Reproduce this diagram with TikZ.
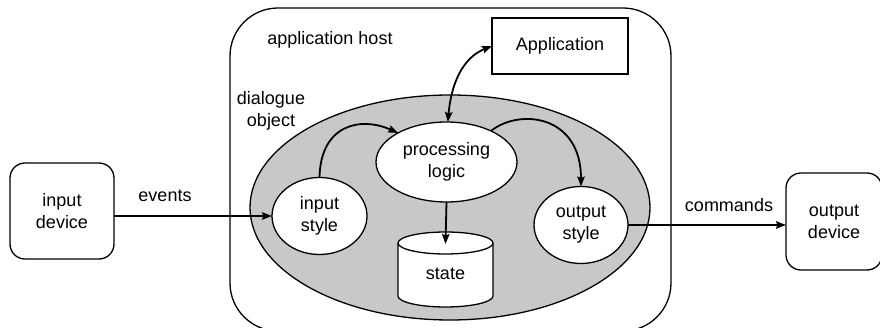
\documentclass[tikz,border=0pt]{standalone}
\usepackage{fontspec}
\setmainfont{Liberation Sans}
\usetikzlibrary{shapes.geometric,arrows.meta}
\definecolor{dlggray}{HTML}{C8C8C8}
\tikzset{
  txt/.style={font=\fontsize{18}{22}\selectfont, align=center, inner sep=0pt},
  frame/.style={draw, line width=1.3pt, outer sep=0pt, inner sep=0pt},
  devbox/.style={frame, rounded corners=15pt, minimum width=104pt, minimum height=96pt, txt},
  bubble/.style={frame, ellipse, fill=white, txt},
  arr/.style={line width=1.8pt, -{Stealth[length=10pt,width=7.5pt,inset=1.5pt]}},
  biarr/.style={line width=1.8pt, {Stealth[length=10pt,width=7.5pt,inset=1.5pt]}-{Stealth[length=10pt,width=7.5pt,inset=1.5pt]}}
}
\begin{document}
\begin{tikzpicture}[x=1pt,y=-1pt]
\useasboundingbox (0,0) rectangle (880,328);

% host frame (runs past the lower edge)
\node[frame, rounded corners=48pt, minimum width=441pt, minimum height=323pt] (host) at (450.5,169.5) {};
\node[txt, anchor=base] (hostlbl) at (330,45) {application host};

% application
\node[frame, minimum width=136pt, minimum height=56pt, txt] (app) at (560,46) {Application};

% dialogue object
\node[frame, ellipse, fill=dlggray, minimum width=400pt, minimum height=225pt] (dlg) at (450,207.5) {};
\node[txt] (dlglbl) at (271,111) {dialogue\\object};

% inner parts
\node[bubble, minimum width=141pt, minimum height=80pt] (proc) at (446.5,162) {processing\\logic};
\node[bubble, minimum width=95pt, minimum height=77pt] (instyle) at (319.5,216) {input\\style};
\node[bubble, minimum width=94pt, minimum height=77pt] (outstyle) at (581,225) {output\\style};

% state store
\fill[white] (398,243) -- (398,296) arc[start angle=180,end angle=360,x radius=47.5pt,y radius=11pt] -- (493,243) -- cycle;
\draw[line width=1.3pt] (398,243) -- (398,296) arc[start angle=180,end angle=360,x radius=47.5pt,y radius=11pt] -- (493,243);
\draw[line width=1.3pt, fill=white] (445.5,243) ellipse[x radius=47.5pt,y radius=11pt];
\node[txt, anchor=base] (state) at (445.5,280) {state};
\coordinate (sttop) at (445.5,244);

% devices
\node[devbox] (indev) at (62,211) {input\\device};
\node[devbox, minimum width=96pt, minimum height=97pt] (outdev) at (834,221.5) {output\\device};

% flows
\draw[arr] (indev.east |- instyle.west) -- (instyle.west);
\node[txt, anchor=base] (evlbl) at (165,202) {events};
\draw[arr] (outstyle.east) -- (outdev.west |- outstyle.east);
\node[txt, anchor=base] (cmdlbl) at (729,212) {commands};

\draw[arr] (instyle.north) .. controls (320.5,125) and (360,116) .. (proc.149);
\draw[arr] (proc.35) .. controls (520,108) and (581,115) .. (outstyle.north);
\draw[arr] (proc.south) -- (sttop);
\draw[biarr] (proc.88) .. controls (451,85) and (462,58) .. (app.west);
\end{tikzpicture}
\end{document}
